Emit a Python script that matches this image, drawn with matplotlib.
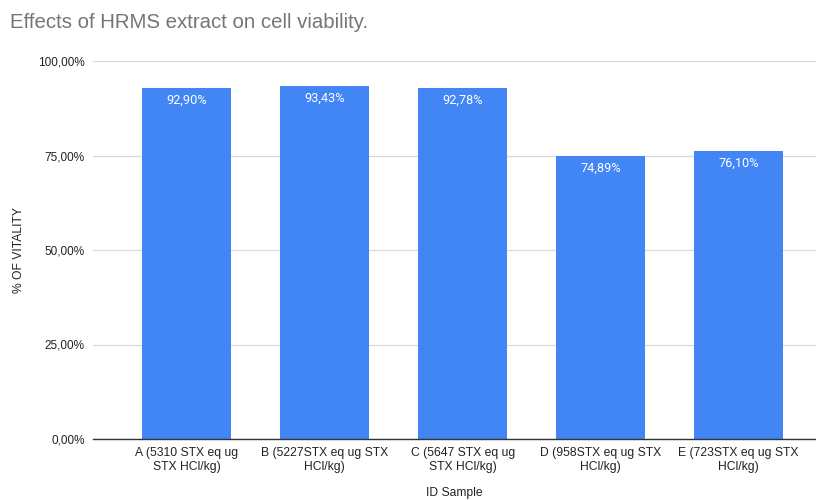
import matplotlib.pyplot as plt
from matplotlib.ticker import FuncFormatter

samples = ["A (5310 STX eq ug\nSTX HCl/kg)", "B (5227STX eq ug STX\nHCl/kg)",
           "C (5647 STX eq ug\nSTX HCl/kg)", "D (958STX eq ug STX\nHCl/kg)",
           "E (723STX eq ug STX\nHCl/kg)"]
vitality = [92.90, 93.43, 92.78, 74.89, 76.10]
yticks = [0, 25, 50, 75, 100]

plt.rcParams['font.family'] = ['Liberation Sans', 'DejaVu Sans']

fig = plt.figure(figsize=(8.16, 5.0), dpi=100)
ax = fig.add_axes([0.114, 0.122, 0.886, 0.756])

x = range(len(samples))
bars = ax.bar(x, vitality, width=0.645, color='#4285f4', zorder=3)
for xi, v in zip(x, vitality):
    ax.annotate("{:.2f}%".format(v).replace('.', ','), (xi, v), xytext=(0, -4),
                textcoords='offset points', ha='center', va='top',
                color='white', fontsize=9.2, family=['Roboto', 'DejaVu Sans'], zorder=4)

ax.set_xlim(-0.678, 4.56)
ax.set_ylim(0, 100)
ax.set_yticks(yticks)
ax.yaxis.set_major_formatter(FuncFormatter(lambda v, p: "{:.2f}%".format(v).replace('.', ',')))
ax.set_xticks(list(x))
ax.set_xticklabels(samples, fontsize=8.7, color='#222222', linespacing=1.15)
ax.tick_params(axis='y', length=0, labelsize=8.5, labelcolor='#222222', pad=6)
ax.tick_params(axis='x', length=0, pad=6)
ax.grid(axis='y', color='#d9d9d9', linewidth=0.9, zorder=0)
for s in ['top', 'right', 'left']:
    ax.spines[s].set_visible(False)
ax.spines['bottom'].set_color('#333333')
ax.spines['bottom'].set_linewidth(1.0)
ax.spines['bottom'].set_zorder(5)

ax.set_ylabel('% OF VITALITY', fontsize=8.7, color='#222222', labelpad=9)
ax.set_xlabel('ID Sample', fontsize=8.7, color='#222222', labelpad=10)
fig.text(0.012, 0.955, 'Effects of HRMS extract on cell viability.', fontsize=14.7,
         color='#757575', ha='left', va='center')

fig.savefig('out.png', dpi=100)
